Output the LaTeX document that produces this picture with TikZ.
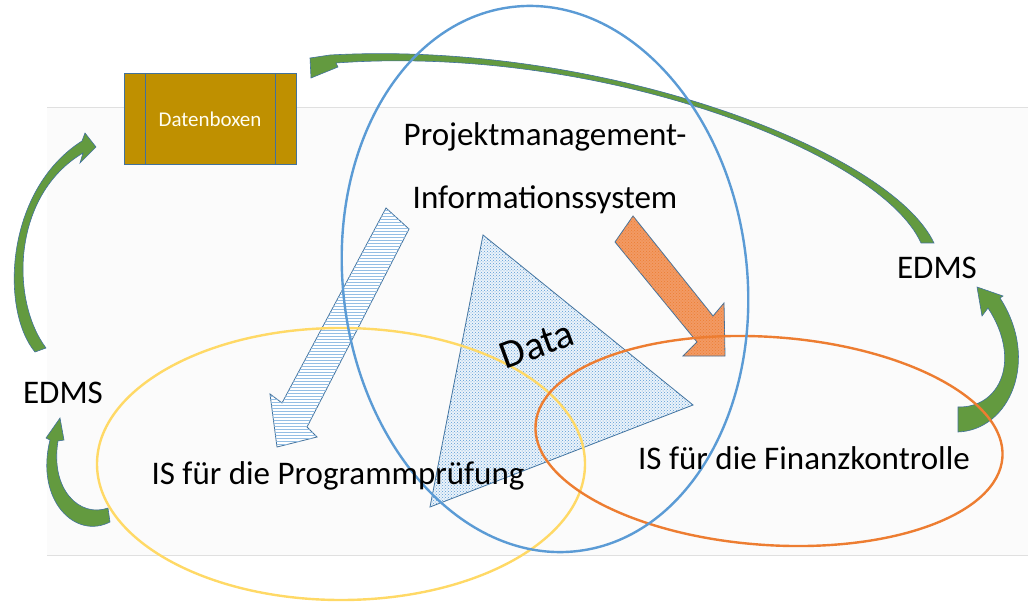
\documentclass[tikz,border=0pt]{standalone}
\usepackage{fontspec}
\setmainfont{Carlito}
\usetikzlibrary{patterns}
\definecolor{pblue}{HTML}{5B9BD5}
\definecolor{pyellow}{HTML}{FFD966}
\definecolor{porange}{HTML}{ED7D31}
\definecolor{gold}{HTML}{BF9000}
\definecolor{edgec}{HTML}{41719C}
\definecolor{glight}{HTML}{70AD47}
\definecolor{gdark}{HTML}{548235}
\definecolor{oarrow}{HTML}{F29A64}
\begin{document}
\begin{tikzpicture}[x=1pt,y=-1pt,
  ring/.style={line width=2.4pt},
  garrow/.style={draw=edgec, line width=0.6pt, fill=glight!55!gdark},
  txt/.style={inner sep=0pt, text=black, font=\fontsize{33}{40}\selectfont},
]
\useasboundingbox (0,0) rectangle (1028,604);
% background panel
\fill[black!1.5] (47,107) rectangle (1028,555);
\draw[black!12, line width=0.8pt] (47,107) -- (1028,107);
\draw[black!12, line width=0.8pt] (47,555) -- (1028,555);

% Datenboxen
\node[draw=edgec, fill=gold, line width=1pt, minimum width=172pt, minimum height=91pt, inner sep=0pt,
  text=white!95!yellow, font=\fontsize{21}{24}\selectfont] (dbox) at (210,119.5) {Datenboxen};
\draw[edgec, line width=1pt] ([xshift=22pt]dbox.north west) -- ([xshift=22pt]dbox.south west);
\draw[edgec, line width=1pt] ([xshift=-21pt]dbox.north east) -- ([xshift=-21pt]dbox.south east);

% triangle
\draw[edgec, line width=0.8pt, fill=pblue!12, postaction={pattern=crosshatch dots, pattern color=pblue}]
  (483,235) -- (693,405) -- (430,507) -- cycle;

% striped arrow
\draw[edgec, line width=0.8pt, fill=white, postaction={pattern=horizontal lines, pattern color=pblue!65}]
  (386,208) -- (409,229) -- (307,427) -- (317,437) -- (277,447) -- (270,394) -- (282,403) -- cycle;

% orange arrow
\draw[edgec, line width=0.8pt, fill=oarrow, postaction={pattern=crosshatch dots, pattern color=porange}]
  (633,216) -- (713,316) -- (724,303) -- (725,356) -- (683,356) -- (697,342) -- (615,242) -- cycle;

% green curved arrows
\draw[garrow] (35,352) .. controls (0,310) and (5,190) .. (82,141) -- (85,133) -- (96,147) -- (80,163)
  -- (83,153) .. controls (12,195) and (10,300) .. (46,348) -- cycle;
\draw[garrow] (110,522) .. controls (75,540) and (35,500) .. (50,440) -- (46,438) -- (60,418)
  -- (64,440) -- (58,441) .. controls (50,490) and (80,518) .. (108,508) -- cycle;
\draw[garrow] (934,243) .. controls (890,150) and (600,40) .. (330,55) -- (310,58) -- (311,78)
  -- (338,67) -- (336,63) .. controls (600,44) and (880,152) .. (921,243) -- cycle;
\draw[garrow] (958,432) .. controls (1010,430) and (1040,360) .. (1000,298) -- (1003,296) -- (977,287)
  -- (982,316) -- (988,308) .. controls (1022,360) and (1000,408) .. (958,407) -- cycle;

% ellipses
\draw[ring, pyellow] (341,464) ellipse [x radius=244, y radius=136];
\draw[ring, porange, rotate around={-4:(769,441)}] (769,441) ellipse [x radius=234, y radius=104];
\draw[ring, pblue, rotate around={7:(545,279)}] (545,279) ellipse [x radius=202, y radius=274];

% texts
\node[txt, align=center, font=\fontsize{33}{63}\selectfont] (pm) at (545,168) {Projektmanagement-\\Informationssystem};
\node[txt, rotate=20, font=\fontsize{40}{44}\selectfont] (data) at (537,345) {Data};
\node[txt] (isp) at (338,476) {IS für die Programmprüfung};
\node[txt] (isf) at (804,458) {IS für die Finanzkontrolle};
\node[txt] (edmsl) at (63,393) {EDMS};
\node[txt] (edmsr) at (937,268) {EDMS};
\end{tikzpicture}
\end{document}
